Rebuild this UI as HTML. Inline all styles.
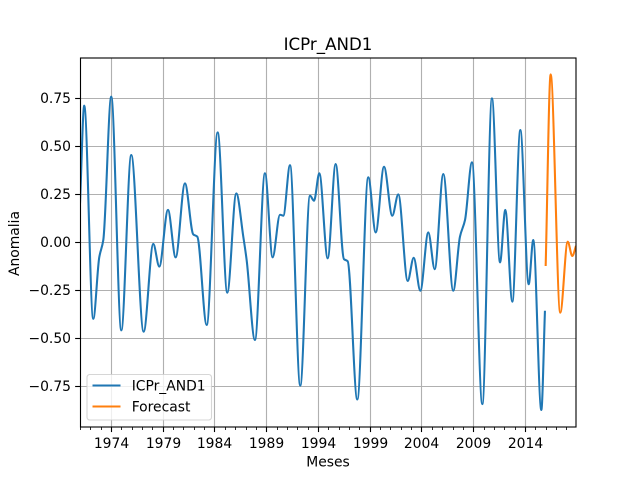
<!DOCTYPE html>
<html>
<head>
<meta charset="utf-8">
<title>ICPr_AND1</title>
<style>
html,body{margin:0;padding:0;background:#fff;width:640px;height:480px;overflow:hidden}
svg{display:block}
text{font-family:"DejaVu Sans",sans-serif;fill:#000}
</style>
</head>
<body>
<svg id="chart" xmlns="http://www.w3.org/2000/svg" width="640" height="480" viewBox="0 0 640 480">
  <defs><clipPath id="plot-clip"><rect x="80" y="57.6" width="496" height="369.6"/></clipPath></defs>
  <rect x="0" y="0" width="640" height="480" fill="#fff"/>
  <rect x="80" y="57.6" width="496" height="369.6" fill="#fff"/>
  <g id="grid"></g>
  <g id="series" clip-path="url(#plot-clip)"></g>
  <g id="ticks"></g>
  <g>
    <rect x="87" y="374.5" width="124.5" height="45.5" rx="2.8" fill="#fff" fill-opacity="0.8" stroke="#ccc" stroke-opacity="0.8" stroke-width="1.1"/>
    <line x1="92.5" x2="120.5" y1="385.5" y2="385.5" stroke="#1f77b4" stroke-width="2.08"/>
    <text x="131.7" y="390.6" font-size="13.89">ICPr_AND1</text>
    <line x1="92.5" x2="120.5" y1="406.5" y2="406.5" stroke="#ff7f0e" stroke-width="2.08"/>
    <text x="131.7" y="411.6" font-size="13.89">Forecast</text>
  </g>
  <g fill="none" stroke="#000" stroke-width="1.11">
    <rect x="80.5" y="58" width="495.5" height="369"/>
  </g>
  <text x="328" y="50" font-size="16.67" text-anchor="middle">ICPr_AND1</text>
  <text x="328" y="466.6" font-size="13.89" text-anchor="middle">Meses</text>
  <text x="0" y="0" font-size="13.89" text-anchor="middle" transform="translate(19,243.5) rotate(-90)">Anomalia</text>
</svg>
<script>
const xTickYears = [1974, 1979, 1984, 1989, 1994, 1999, 2004, 2009, 2014];
const yTickValues = [-0.75, -0.5, -0.25, 0, 0.25, 0.5, 0.75];
const minorFirstYear = 1971;
const minorLastYear = 2018;

const icprTimes = [1970.96, 1971.37, 1972.24, 1972.82, 1973.21, 1973.98, 1974.95, 1975.91, 1977.11, 1978.04, 1978.62, 1979.46, 1980.20, 1981.10, 1981.90, 1982.29, 1983.20, 1984.26, 1985.19, 1986.06, 1986.73, 1987.06, 1987.86, 1988.83, 1989.57, 1990.28, 1990.60, 1991.25, 1992.24, 1993.18, 1993.57, 1994.08, 1994.89, 1995.66, 1996.46, 1996.82, 1997.75, 1998.81, 1999.53, 2000.33, 2001.13, 2001.71, 2002.62, 2003.20, 2003.84, 2004.61, 2005.23, 2006.06, 2007.02, 2007.67, 2008.16, 2008.83, 2009.83, 2010.76, 2011.54, 2012.05, 2012.73, 2013.50, 2014.31, 2014.75, 2015.53, 2015.88];
const icprValues = [0.2, 0.71, -0.40, -0.08, 0.01, 0.757, -0.46, 0.453, -0.467, -0.01, -0.128, 0.167, -0.08, 0.305, 0.04, 0.028, -0.432, 0.571, -0.264, 0.253, 0.03, -0.094, -0.51, 0.358, -0.08, 0.142, 0.137, 0.40, -0.748, 0.241, 0.215, 0.358, -0.085, 0.406, -0.089, -0.10, -0.82, 0.337, 0.05, 0.392, 0.137, 0.248, -0.203, -0.082, -0.254, 0.05, -0.142, 0.354, -0.254, 0.028, 0.115, 0.415, -0.844, 0.748, -0.106, 0.167, -0.311, 0.583, -0.22, 0.01, -0.875, -0.358];
const forecastTimes = [2015.95, 2016.43, 2017.36, 2018.08, 2018.52, 2018.88];
const forecastValues = [-0.125, 0.873, -0.368, 0.002, -0.073, -0.02];

const xMin = 1970.96, xMax = 2018.88, yMin = -0.9646, yMax = 0.9604;
const plotL = 80, plotR = 576, plotT = 57.6, plotB = 427.2;
const NS = 'http://www.w3.org/2000/svg';

function xScale(t) { return plotL + (t - xMin) / (xMax - xMin) * (plotR - plotL); }
function yScale(v) { return plotB - (v - yMin) / (yMax - yMin) * (plotB - plotT); }
function snap(p) { return Math.round(p) + 0.5; }

function makeLine(parent, x1, y1, x2, y2, color, width) {
  const el = document.createElementNS(NS, 'line');
  el.setAttribute('x1', x1);
  el.setAttribute('y1', y1);
  el.setAttribute('x2', x2);
  el.setAttribute('y2', y2);
  el.setAttribute('stroke', color);
  el.setAttribute('stroke-width', width);
  parent.appendChild(el);
  return el;
}

function makeLabel(parent, x, y, anchor, str) {
  const el = document.createElementNS(NS, 'text');
  el.setAttribute('x', x);
  el.setAttribute('y', y);
  el.setAttribute('font-size', '13.89');
  el.setAttribute('text-anchor', anchor);
  el.textContent = str;
  parent.appendChild(el);
  return el;
}

/* Monotone cubic path through the data, scaled through the axis functions */
function monotonePath(times, values) {
  const xs = times.map(xScale);
  const ys = values.map(yScale);
  const n = xs.length;
  const slopes = [];
  for (let i = 0; i < n - 1; i++) slopes.push((ys[i + 1] - ys[i]) / (xs[i + 1] - xs[i]));
  const tangents = [slopes[0]];
  for (let i = 1; i < n - 1; i++) {
    if (slopes[i - 1] * slopes[i] <= 0) {
      tangents.push(0);
    } else {
      const h0 = xs[i] - xs[i - 1], h1 = xs[i + 1] - xs[i];
      const w1 = 2 * h1 + h0, w2 = h1 + 2 * h0;
      tangents.push((w1 + w2) / (w1 / slopes[i - 1] + w2 / slopes[i]));
    }
  }
  tangents.push(slopes[n - 2]);
  let d = 'M' + xs[0].toFixed(2) + ' ' + ys[0].toFixed(2);
  for (let i = 0; i < n - 1; i++) {
    const h = (xs[i + 1] - xs[i]) / 3;
    d += 'C' + (xs[i] + h).toFixed(2) + ' ' + (ys[i] + tangents[i] * h).toFixed(2) + ' ' +
      (xs[i + 1] - h).toFixed(2) + ' ' + (ys[i + 1] - tangents[i + 1] * h).toFixed(2) + ' ' +
      xs[i + 1].toFixed(2) + ' ' + ys[i + 1].toFixed(2);
  }
  return d;
}

const gridG = document.getElementById('grid');
const ticksG = document.getElementById('ticks');
const seriesG = document.getElementById('series');

xTickYears.forEach(function (year) {
  const px = snap(xScale(year) - 0.5);
  const g = makeLine(gridG, px, plotT, px, plotB, '#b0b0b0', 1.11);
  
  
  const t = makeLine(ticksG, px, plotB, px, plotB + 4.86, '#000', 1.11);
  
  
  const l = makeLabel(ticksG, px, 447.8, 'middle', String(year));
  
  
});

for (let year = minorFirstYear; year <= minorLastYear; year++) {
  if (xTickYears.indexOf(year) >= 0) continue;
  const px = snap(xScale(year) - 0.5);
  const m = makeLine(ticksG, px, plotB, px, plotB + 2.78, '#000', 0.83);
  
  
}

yTickValues.forEach(function (value) {
  const py = snap(yScale(value));
  const g = makeLine(gridG, plotL, py, plotR, py, '#b0b0b0', 1.11);
  
  
  const t = makeLine(ticksG, plotL - 4.86, py, plotL, py, '#000', 1.11);
  
  
  const text = (value < 0 ? '\u2212' : '') + Math.abs(value).toFixed(2);
  const l = makeLabel(ticksG, 71, py + 4.7, 'end', text);
  
  
});

const icprLine = document.createElementNS(NS, 'path');


icprLine.setAttribute('d', monotonePath(icprTimes, icprValues));
icprLine.setAttribute('fill', 'none');
icprLine.setAttribute('stroke', '#1f77b4');
icprLine.setAttribute('stroke-width', '2.08');
seriesG.appendChild(icprLine);

const forecastLine = document.createElementNS(NS, 'path');


forecastLine.setAttribute('d', monotonePath(forecastTimes, forecastValues));
forecastLine.setAttribute('fill', 'none');
forecastLine.setAttribute('stroke', '#ff7f0e');
forecastLine.setAttribute('stroke-width', '2.08');
seriesG.appendChild(forecastLine);
</script>
</body>
</html>
